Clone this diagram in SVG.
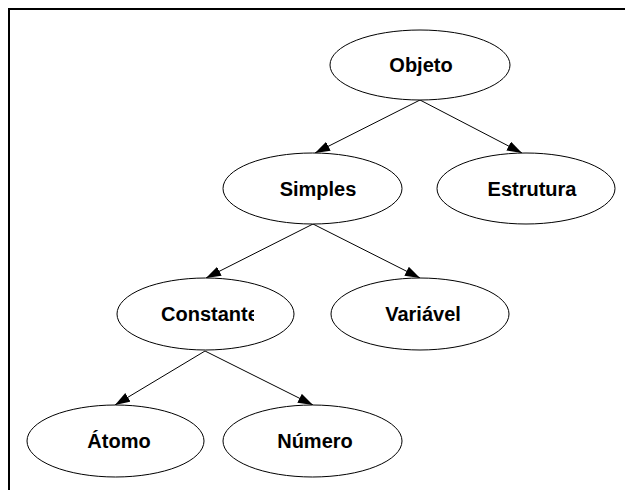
<svg xmlns="http://www.w3.org/2000/svg" width="625" height="490" viewBox="0 0 625 490">
  <style>
    .node ellipse { fill: #ffffff; stroke: #000000; stroke-width: 1; }
    .node text { font-family: "Liberation Sans", Arial, sans-serif; font-weight: bold; font-size: 20px; fill: #000000; text-anchor: middle; }
    .edge { stroke: #000000; stroke-width: 1; fill: none; marker-end: url(#arrow); }
    .frame { stroke: #000000; stroke-width: 2; fill: none; }
  </style>
  <defs>
    <marker id="arrow" markerUnits="userSpaceOnUse" markerWidth="15" markerHeight="10" refX="15" refY="5" orient="auto">
      <path d="M0,0 L15,5 L0,10 z" fill="#000000"/>
    </marker>
    <clipPath id="clipConst">
      <rect x="100" y="280" width="154" height="70"/>
    </clipPath>
  </defs>
  <rect width="625" height="490" fill="#ffffff"/>
  <path class="frame" d="M9,490 L9,9 L625,9"/>
  <g id="connectors">
    <line class="edge" x1="420" y1="100" x2="315" y2="153"/>
    <line class="edge" x1="420" y1="100" x2="522" y2="153"/>
    <line class="edge" x1="313" y1="224" x2="206" y2="278"/>
    <line class="edge" x1="313" y1="224" x2="420" y2="278"/>
    <line class="edge" x1="205" y1="351" x2="115" y2="405"/>
    <line class="edge" x1="205" y1="351" x2="313" y2="405"/>
  </g>
  <g id="objeto" class="node">
    <ellipse cx="420" cy="65" rx="90" ry="35"/>
    <text x="421" y="72">Objeto</text>
  </g>
  <g id="simples" class="node">
    <ellipse cx="312.5" cy="188.5" rx="89.5" ry="35.5"/>
    <text x="318" y="195.5">Simples</text>
  </g>
  <g id="estrutura" class="node">
    <ellipse cx="526" cy="188.5" rx="89" ry="35.5"/>
    <text x="532" y="195.5">Estrutura</text>
  </g>
  <g id="constante" class="node">
    <ellipse cx="205.5" cy="314" rx="88.5" ry="36"/>
    <text x="161" y="321" style="text-anchor:start" clip-path="url(#clipConst)">Constante</text>
  </g>
  <g id="variavel" class="node">
    <ellipse cx="420" cy="314" rx="89" ry="36"/>
    <text x="423" y="321">Variável</text>
  </g>
  <g id="atomo" class="node">
    <ellipse cx="115.5" cy="441" rx="88.5" ry="36"/>
    <text x="119" y="448">Átomo</text>
  </g>
  <g id="numero" class="node">
    <ellipse cx="312.5" cy="441" rx="89.5" ry="36"/>
    <text x="315" y="448">Número</text>
  </g>
</svg>
